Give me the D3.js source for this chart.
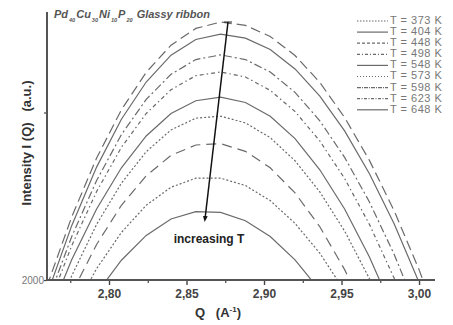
<!DOCTYPE html>
<html><head><meta charset="utf-8">
<script src="https://cdn.jsdelivr.net/npm/d3@7"></script>
<style>
body{margin:0;background:#fff;}
svg{display:block;font-family:"Liberation Sans",Arial,sans-serif;}
</style></head>
<body>
<svg id="c" width="453" height="325"></svg>
<script>
// Q grid (A^-1)
const qValues = [2.760,2.776,2.792,2.808,2.824,2.840,2.856,2.872,2.888,2.904,2.920,2.936,2.952,2.968,2.984,3.000,3.016];
const temperatures = ["373","404","448","498","548","573","598","623","648"];
const s373 = [1982,2189,2364,2508,2620,2701,2751,2770,2760,2727,2670,2590,2485,2357,2206,2031,1832];
const s404 = [1956,2163,2337,2480,2591,2671,2718,2734,2722,2688,2630,2549,2445,2317,2167,1993,1796];
const s448 = [1932,2130,2297,2434,2539,2614,2658,2672,2658,2621,2560,2475,2366,2233,2076,1895,1691];
const s498 = [1912,2103,2264,2396,2497,2568,2610,2621,2606,2566,2503,2415,2303,2166,2005,1820,1611];
const s548 = [1881,2061,2212,2335,2430,2497,2535,2546,2530,2489,2422,2329,2212,2069,1900,1706,1486];
const s573 = [1830,2013,2166,2289,2383,2448,2483,2489,2469,2425,2356,2263,2146,2004,1838,1647,1432];
const s598 = [1788,1961,2106,2223,2311,2372,2403,2407,2384,2335,2260,2159,2031,1878,1698,1492,1260];
const s623 = [1736,1898,2034,2142,2223,2277,2304,2304,2282,2237,2169,2080,1967,1833,1675,1496,1294];
const s648 = [1683,1834,1960,2059,2133,2182,2204,2202,2177,2130,2060,1969,1856,1720,1562,1382,1180];
const seriesValues = [s373,s404,s448,s498,s548,s573,s598,s623,s648];
const xTicks = [2.80,2.85,2.90,2.95,3.00];
const xMinorTicks = [2.775,2.825,2.875,2.925,2.975];
const yTickLabels = [2000];
const yTicks = [2000,2500];

// styles
const curveDash = ["10,5", null, "8,3,2,3", "4,3,1.5,3", null, "2,2", "10,6", "2,2", null];
const legendDash = ["1.5,1.5", null, "3,2", "3,2,1,2", null, "1,2", "4,1,1,1", "3,1.5,1,1.5", null];

const svg = d3.select("#c");
const x = d3.scaleLinear().domain([2.76, 3.0103]).range([47, 435]);
const y = d3.scaleLinear().domain([2000, 2800]).range([280, 12]);

svg.append("defs").append("clipPath").attr("id","clip")
  .append("rect").attr("x",47).attr("y",12).attr("width",388).attr("height",268);

const line = d3.line().x((d,i)=>x(qValues[i])).y(d=>y(d));
const g = svg.append("g").attr("clip-path","url(#clip)");
seriesValues.forEach((s,i)=>{
  g.append("path").attr("d", line(s)).attr("fill","none")
    .attr("stroke","#6a6a6a").attr("stroke-width",1.2)
    .attr("stroke-dasharray", curveDash[i]);
});

// axes
const xAxis = d3.axisBottom(x).tickValues(xTicks).tickSize(5)
  .tickFormat(d=>d3.format(".2f")(d).replace(".", ","));
const gx = svg.append("g").attr("transform","translate(0,280)").call(xAxis);
gx.select(".domain").remove();
gx.selectAll(".tick line").attr("stroke","#444").attr("stroke-width",1.4);
gx.selectAll(".tick text").attr("font-size",12).attr("font-weight","bold").attr("fill","#444").attr("dy","0.85em");
const gxm = svg.append("g").attr("transform","translate(0,280)")
  .call(d3.axisBottom(x).tickValues(xMinorTicks).tickSize(3).tickFormat(""));
gxm.select(".domain").remove();
gxm.selectAll(".tick line").attr("stroke","#444").attr("stroke-width",1.2);

const yAxis = d3.axisLeft(y).tickValues(yTicks).tickSize(3)
  .tickFormat(d=>yTickLabels.includes(d)?String(d):"");
const gy = svg.append("g").attr("transform","translate(47,0)").call(yAxis);
gy.select(".domain").remove();
gy.selectAll(".tick line").attr("stroke","#444").attr("stroke-width",1.2);
gy.selectAll(".tick text").attr("font-size",10).attr("fill","#777").attr("x",-3);

svg.append("line").attr("x1",47).attr("x2",47).attr("y1",12).attr("y2",281)
  .attr("stroke","#555").attr("stroke-width",2);
svg.append("line").attr("x1",46).attr("x2",435).attr("y1",280).attr("y2",280)
  .attr("stroke","#555").attr("stroke-width",2);

// axis labels
svg.append("text").attr("transform","translate(28,143) rotate(-90)")
  .attr("text-anchor","middle").attr("dominant-baseline","middle")
  .attr("font-size",13).attr("font-weight","bold").attr("fill","#333")
  .attr("xml:space","preserve").text("Intensity I (Q)   (a.u.)");
const xl = svg.append("text").attr("x",218).attr("y",317).attr("text-anchor","middle")
  .attr("font-size",13).attr("font-weight","bold").attr("fill","#333").attr("xml:space","preserve");
xl.append("tspan").text("Q   (A");
xl.append("tspan").attr("dy",-5).attr("font-size",8).text("-1");
xl.append("tspan").attr("dy",5).text(")");

// title with subscripts
const tt = svg.append("text").attr("x",54).attr("y",18)
  .attr("font-size",11).attr("font-weight","bold").attr("font-style","italic").attr("fill","#555")
  .attr("xml:space","preserve");
[["Pd",""],["40","s"],["Cu",""],["30","s"],["Ni",""],["10","s"],["P",""],["20","s"],[" Glassy ribbon",""]].forEach(([t,k],i,arr)=>{
  const prevSub = i>0 && arr[i-1][1]==="s";
  const ts = tt.append("tspan").text(t);
  if(k==="s"){ ts.attr("dy",3.5).attr("font-size",5.5).attr("dx",1); }
  else if(prevSub){ ts.attr("dy",-3.5).attr("dx",1); }
});

// legend
const lg = svg.append("g");
temperatures.forEach((t,i)=>{
  const yy = 21 + i*11.1;
  lg.append("line").attr("x1",357).attr("x2",388).attr("y1",yy).attr("y2",yy)
    .attr("stroke","#6a6a6a").attr("stroke-width",1.2).attr("stroke-dasharray",legendDash[i]);
  lg.append("text").attr("x",390).attr("y",yy).attr("dominant-baseline","middle")
    .attr("font-size",11).attr("letter-spacing",0.5).attr("fill","#777").text("T = "+t+" K");
});

// arrow
svg.append("defs").append("marker").attr("id","ah").attr("viewBox","0 0 10 10")
  .attr("refX",5).attr("refY",5).attr("markerWidth",4).attr("markerHeight",4).attr("orient","auto")
  .append("path").attr("d","M0,1 L10,5 L0,9 z").attr("fill","#111");
svg.append("line").attr("x1",224).attr("x2",232).attr("y1",22).attr("y2",22).attr("stroke","#222").attr("stroke-width",1);
svg.append("line").attr("x1",228).attr("y1",22).attr("x2",205).attr("y2",219)
  .attr("stroke","#111").attr("stroke-width",1.5).attr("marker-end","url(#ah)");
svg.append("text").attr("x",209).attr("y",243).attr("text-anchor","middle")
  .attr("font-size",12).attr("font-weight","bold").attr("fill","#222").text("increasing T");
</script>
</body></html>
